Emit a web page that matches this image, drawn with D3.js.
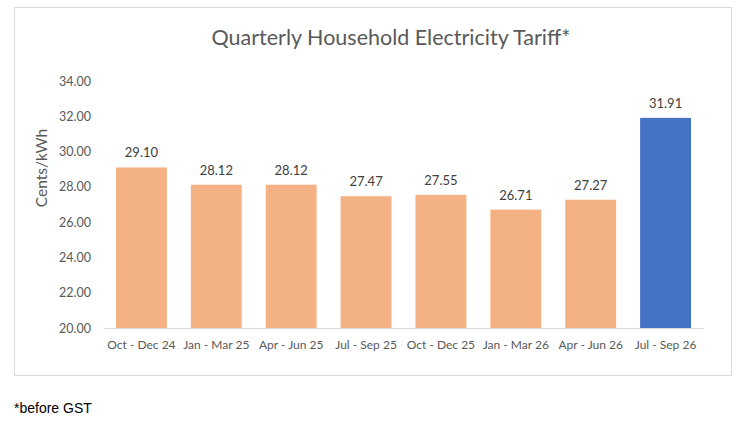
<!DOCTYPE html>
<html>
<head>
<meta charset="utf-8">
<script src="https://cdn.jsdelivr.net/npm/d3@7"></script>
<style>
  body { margin: 0; background: #fff; }
  svg text { font-family: Lato, "Open Sans", sans-serif; }
</style>
</head>
<body>
<svg class="chart"></svg>
<script>
const categories = ["Oct - Dec 24", "Jan - Mar 25", "Apr - Jun 25", "Jul - Sep 25",
  "Oct - Dec 25", "Jan - Mar 26", "Apr - Jun 26", "Jul - Sep 26"];
const tariffs = [29.10, 28.12, 28.12, 27.47, 27.55, 26.71, 27.27, 31.91];
const highlighted = ["Jul - Sep 26"];
const yTicks = [20, 22, 24, 26, 28, 30, 32, 34];

const W = 748, H = 421;
const margin = {top: 81, right: 45, bottom: 93, left: 104};
const width = W - margin.left - margin.right;
const height = H - margin.top - margin.bottom;

const svg = d3.select('.chart')
  .attr('width', W)
  .attr('height', H);

// chart frame
svg.append('rect')
  .attr('x', 14.5).attr('y', 7.5)
  .attr('width', 717).attr('height', 368)
  .attr('fill', '#fff')
  .attr('stroke', '#d9d9d9');

svg.append('text')
  .attr('x', 391).attr('y', 45)
  .attr('text-anchor', 'middle')
  .attr('fill', '#595959')
  .style('font-size', '21.5px')
  .text('Quarterly Household Electricity Tariff*');

const chart = svg.append('g')
  .attr('transform', `translate(${margin.left}, ${margin.top})`);

const x = d3.scaleBand()
  .domain(categories)
  .range([0, width])
  .paddingInner(0.32)
  .paddingOuter(0.16);

const y = d3.scaleLinear()
  .domain([20, 34])
  .range([height, 0]);

const yAxis = d3.axisLeft(y)
  .tickValues(yTicks)
  .tickSize(0)
  .tickPadding(13)
  .tickFormat(d3.format('.2f'));

chart.append('g')
  .attr('class', 'y axis')
  .call(yAxis)
  .call(g => g.select('.domain').remove())
  .selectAll('text')
  .attr('fill', '#595959')
  .style('font-size', '12.5px');

const data = categories.map((c, i) => ({name: c, value: tariffs[i]}));

chart.selectAll('.bar')
  .data(data)
  .enter()
.append('rect')
  .attr('class', 'bar')
  .attr('x', d => x(d.name))
  .attr('y', d => y(d.value))
  .attr('width', x.bandwidth())
  .attr('height', d => height - y(d.value))
  .attr('fill', d => highlighted.includes(d.name) ? '#4472c4' : '#f4b183');

chart.selectAll('.label')
  .data(data)
  .enter()
.append('text')
  .attr('class', 'label')
  .attr('x', d => x(d.name) + x.bandwidth() / 2)
  .attr('y', d => y(d.value) - 10)
  .attr('text-anchor', 'middle')
  .attr('fill', '#404040')
  .style('font-size', '13px')
  .text(d => d3.format('.2f')(d.value));

const xAxis = d3.axisBottom(x)
  .tickSize(0)
  .tickPadding(12);

chart.append('g')
  .attr('class', 'x axis')
  .attr('transform', `translate(0, ${height})`)
  .call(xAxis)
  .call(g => g.select('.domain').attr('stroke', '#d9d9d9'))
  .selectAll('text')
  .attr('fill', '#595959')
  .style('font-size', '12px');

svg.append('text')
  .attr('transform', 'rotate(-90)')
  .attr('x', -168).attr('y', 47)
  .attr('text-anchor', 'middle')
  .attr('fill', '#595959')
  .style('font-size', '15.5px')
  .text('Cents/kWh');

svg.append('text')
  .attr('x', 14).attr('y', 413)
  .attr('fill', '#000')
  .style('font-family', '"Liberation Sans", Arial, sans-serif')
  .style('font-size', '14px')
  .text('*before GST');
</script>
</body>
</html>
